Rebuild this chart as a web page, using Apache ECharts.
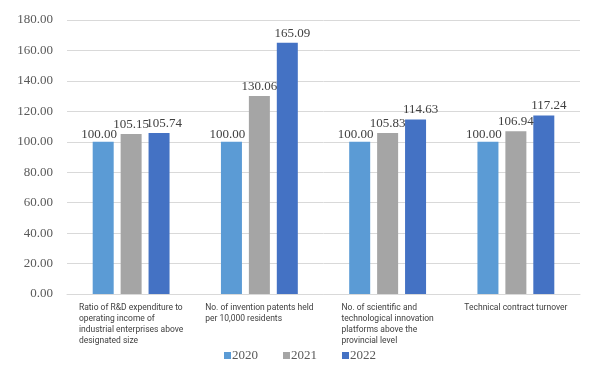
<!DOCTYPE html>
<html><head><meta charset="utf-8">
<script src="https://cdn.jsdelivr.net/npm/echarts@6/dist/echarts.min.js"></script>
<style>html,body{margin:0;padding:0;background:#fff}#c{width:600px;height:373px}</style>
</head><body><div id="c"></div>
<script>
const categories = [
  "Ratio of R&D expenditure to\noperating income of\nindustrial enterprises above\ndesignated size",
  "No. of invention patents held\nper 10,000 residents",
  "No. of scientific and\ntechnological innovation\nplatforms above the\nprovincial level",
  "Technical contract turnover"
];
const seriesNames = ["2020", "2021", "2022"];
const values2020 = [100.00, 100.00, 100.00, 100.00];
const values2021 = [105.15, 130.06, 105.83, 106.94];
const values2022 = [105.74, 165.09, 114.63, 117.24];
const colors = ["#5B9BD5", "#A5A5A5", "#4472C4"];
const allValues = [values2020, values2021, values2022];
const labelOffsets = [[-4, 2], [0, 0], [5, 0]];
const SERIF = "'Liberation Serif', 'Times New Roman', serif";

const chart = echarts.init(document.getElementById('c'), null, {renderer: 'canvas'});
chart.setOption({
  animation: false,
  color: colors,
  grid: {left: 67, right: 20, top: 20, bottom: 79},
  legend: {
    bottom: 6, left: 'center',
    itemWidth: 7, itemHeight: 7, itemGap: 25,
    icon: 'rect',
    textStyle: {fontFamily: SERIF, fontSize: 13, color: '#595959', padding: [0,0,0,-4]},
    data: seriesNames
  },
  xAxis: {
    type: 'category', data: categories,
    axisLine: {lineStyle: {color: '#D9D9D9'}},
    axisTick: {show: false},
    axisLabel: {
      interval: 0, margin: 8,
      align: 'center', verticalAlign: 'top',
      formatter: v => v.split('\n').map(s => '{a|' + s + '}').join('\n'),
      rich: {a: {align: 'left', fontFamily: 'Roboto', fontSize: 8.5, lineHeight: 11.2, color: '#404040'}}
    }
  },
  yAxis: {
    type: 'value', min: 0, max: 180, interval: 20,
    axisLine: {show: false}, axisTick: {show: false},
    splitLine: {lineStyle: {color: '#D9D9D9'}},
    axisLabel: {formatter: v => v.toFixed(2), fontFamily: SERIF, fontSize: 13, color: '#595959', margin: 14}
  },
  series: seriesNames.map((n, i) => ({
    name: n, type: 'bar', data: allValues[i],
    barWidth: 21, barGap: '33%',
    label: {show: true, position: 'top', distance: 3, offset: labelOffsets[i],
      formatter: p => p.value.toFixed(2),
      fontFamily: SERIF, fontSize: 13, color: '#404040'}
  }))
});
</script></body></html>
